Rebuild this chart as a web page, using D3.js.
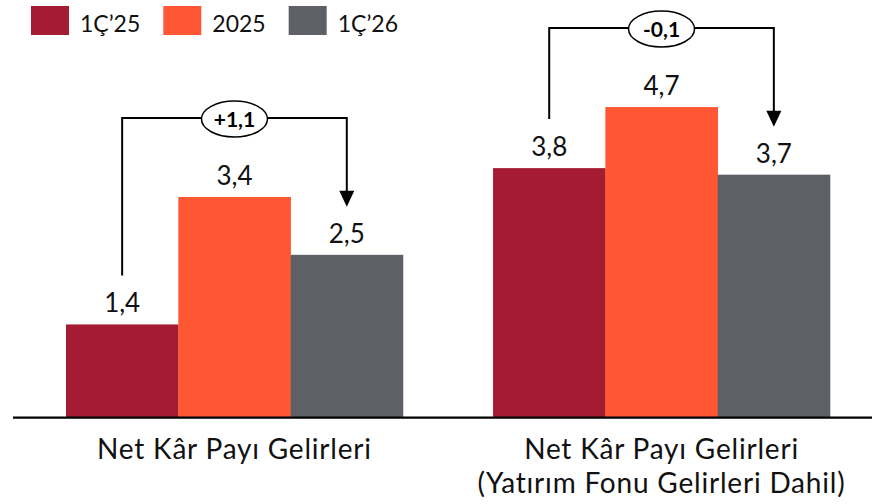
<!DOCTYPE html>
<html><head><meta charset="utf-8">
<script src="https://cdn.jsdelivr.net/npm/d3@7"></script>
<style>
html,body{margin:0;padding:0;background:#fff;}
svg{display:block;font-family:Lato,"Open Sans",sans-serif;}
</style></head>
<body>
<svg id="chart" width="872" height="504"></svg>
<script>
const categories = [["Net Kâr Payı Gelirleri"], ["Net Kâr Payı Gelirleri", "(Yatırım Fonu Gelirleri Dahil)"]];
const seriesNames = ["1Ç’25", "2025", "1Ç’26"];
const seriesColors = ["#A51B31", "#FF5733", "#5E6067"];
const values1Q25 = [1.42, 3.80];
const values2025 = [3.36, 4.73];
const values1Q26 = [2.48, 3.70];
const changeLabels = ["+1,1", "-0,1"];

const svg = d3.select("#chart");
const base = 417.7;
const groupIdx = d3.range(categories.length);
const seriesVals = [values1Q25, values2025, values1Q26];

const x0 = d3.scaleBand().domain(groupIdx).range([66, 830]).paddingInner(0.211).paddingOuter(0);
const x1 = d3.scaleBand().domain(d3.range(seriesNames.length)).range([0, x0.bandwidth()]).padding(0);
const y = d3.scaleLinear().domain([0, 5]).range([base, base - 5 * 65.68]);

const fmt = v => d3.format(".1f")(v).replace(".", ",");

// bars
groupIdx.forEach(g => {
  const gx = x0(g);
  seriesVals.forEach((arr, s) => {
    svg.append("rect")
      .attr("x", gx + x1(s)).attr("width", x1.bandwidth() + 0.3)
      .attr("y", y(arr[g])).attr("height", base - y(arr[g]))
      .attr("fill", seriesColors[s]);
    svg.append("text")
      .attr("x", gx + x1(s) + x1.bandwidth() / 2)
      .attr("y", y(arr[g]) - 12)
      .attr("text-anchor", "middle")
      .attr("font-size", 26).attr("fill", "#111")
      .text(fmt(arr[g]));
  });
});

// baseline
svg.append("line").attr("x1", 13).attr("x2", 872).attr("y1", base).attr("y2", base)
  .attr("stroke", "#000").attr("stroke-width", 2.2);

// category labels
groupIdx.forEach(g => {
  const cx = x0(g) + x0.bandwidth() / 2;
  categories[g].forEach((line, i) => {
    svg.append("text").attr("x", cx).attr("y", 458.5 + i * 34)
      .attr("text-anchor", "middle").attr("font-size", 28)
      .attr("letter-spacing", 0.8).attr("fill", "#111")
      .text(line);
  });
});

// change brackets
groupIdx.forEach(g => {
  const gx = x0(g);
  const xl = gx + x1(0) + x1.bandwidth() / 2;
  const xr = gx + x1(2) + x1.bandwidth() / 2;
  const xm = gx + x1(1) + x1.bandwidth() / 2;
  const top = y(d3.max(seriesVals, a => a[g])) - 79;
  const yl = y(values1Q25[g]) - 49;
  const yr = y(values1Q26[g]) - 48;
  svg.append("path")
    .attr("d", `M${xl},${yl}V${top}H${xr}V${yr - 14}`)
    .attr("fill", "none").attr("stroke", "#000").attr("stroke-width", 2);
  svg.append("path")
    .attr("d", `M${xr - 7.5},${yr - 16}L${xr + 7.5},${yr - 16}L${xr},${yr}Z`)
    .attr("fill", "#000");
  svg.append("ellipse").attr("cx", xm).attr("cy", top + 1).attr("rx", 33).attr("ry", 18)
    .attr("fill", "#fff").attr("stroke", "#000").attr("stroke-width", 1.5);
  svg.append("text").attr("x", xm).attr("y", top + 1).attr("dy", "0.36em")
    .attr("text-anchor", "middle").attr("font-size", 21).attr("font-weight", "bold")
    .attr("fill", "#000").text(changeLabels[g]);
});

// legend
let lx = 31;
seriesNames.forEach((name, s) => {
  svg.append("rect").attr("x", lx).attr("y", 6).attr("width", 38).attr("height", 29)
    .attr("fill", seriesColors[s]);
  const t = svg.append("text").attr("x", lx + 49).attr("y", 31.7)
    .attr("font-size", 23).attr("fill", "#111").text(name);
  lx = lx + 49 + t.node().getComputedTextLength() + 23;
});
</script>
</body></html>
